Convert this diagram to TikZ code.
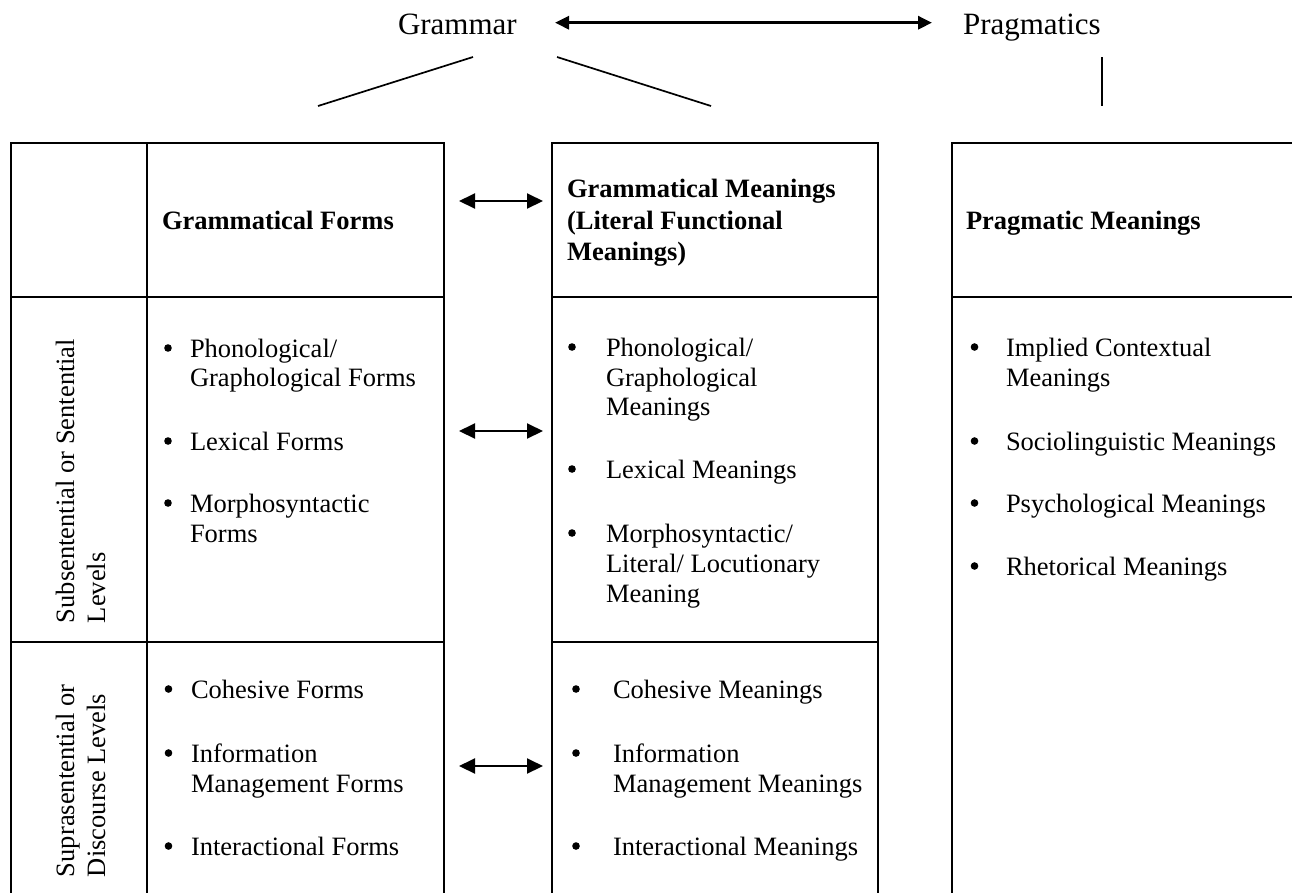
\documentclass[tikz,border=0pt]{standalone}
\usepackage{fontspec}
\setmainfont{Liberation Serif}
\usetikzlibrary{arrows.meta}

\begin{document}
\begin{tikzpicture}[x=1pt,y=-1pt,
  cell/.style={draw, line width=1.9pt, inner sep=0pt, outer sep=0pt, anchor=north west},
  txt/.style={anchor=base west, inner sep=0pt, outer sep=0pt,
    font=\fontsize{26.5}{30}\selectfont},
  head/.style={txt, font=\fontsize{26.5}{30}\selectfont\bfseries},
  title/.style={anchor=base west, inner sep=0pt, outer sep=0pt,
    font=\fontsize{31}{36}\selectfont},
  vert/.style={txt, rotate=90},
  dot/.style={circle, fill, draw=none, inner sep=0pt, minimum size=7.6pt},
  branch/.style={line width=1.7pt},
  link/.style={line width=2pt,
    {Triangle[length=16pt,width=15pt]}-{Triangle[length=16pt,width=15pt]}},
  toplink/.style={line width=3pt,
    {Triangle[length=14pt,width=13pt]}-{Triangle[length=14pt,width=13pt]}},
]
\useasboundingbox (0,0) rectangle (1292,892);
\clip (0,0) rectangle (1292,892);

% top labels
\node[title] (gram) at (398,34) {Grammar};
\node[title] (prag) at (963,34) {Pragmatics};
\coordinate (gl) at (555,22.7);
\coordinate (pr) at (932,22.7);
\draw[toplink] (gl) -- (pr);

% branches below the labels
\coordinate (b1s) at (473,57);  \coordinate (b1e) at (318,106);
\coordinate (b2s) at (557,57);  \coordinate (b2e) at (711,106);
\coordinate (b3s) at (1102,57); \coordinate (b3e) at (1102,106);
\draw[branch] (b1s) -- (b1e);
\draw[branch] (b2s) -- (b2e);
\draw[branch] (b3s) -- (b3e);

% grammar table: level column and form column
\node[cell, minimum width=136pt, minimum height=154pt] (a1) at (11,143) {};
\node[cell, minimum width=297pt, minimum height=154pt] (f1) at (147,143) {};
\node[cell, minimum width=136pt, minimum height=345pt] (a2) at (11,297) {};
\node[cell, minimum width=297pt, minimum height=345pt] (f2) at (147,297) {};
\node[cell, minimum width=136pt, minimum height=280pt] (a3) at (11,642) {};
\node[cell, minimum width=297pt, minimum height=280pt] (f3) at (147,642) {};

% grammatical meanings column
\node[cell, minimum width=326pt, minimum height=154pt] (m1) at (552,143) {};
\node[cell, minimum width=326pt, minimum height=345pt] (m2) at (552,297) {};
\node[cell, minimum width=326pt, minimum height=280pt] (m3) at (552,642) {};

% pragmatic meanings column
\node[cell, minimum width=380pt, minimum height=154pt] (p1) at (952,143) {};
\node[cell, minimum width=380pt, minimum height=625pt] (p2) at (952,297) {};

% links between forms and meanings
\coordinate (l1a) at (459,201); \coordinate (l1b) at (543,201);
\coordinate (l2a) at (459,431); \coordinate (l2b) at (543,431);
\coordinate (l3a) at (459,766); \coordinate (l3b) at (543,766);
\draw[link] (l1a) -- (l1b);
\draw[link] (l2a) -- (l2b);
\draw[link] (l3a) -- (l3b);

% headers
\node[head] (hf) at (162,229) {Grammatical Forms};
\node[head] (hm1) at (567,197) {Grammatical Meanings};
\node[head] (hm2) at (567,229) {(Literal Functional};
\node[head] (hm3) at (567,260) {Meanings)};
\node[head] (hp) at (966,229) {Pragmatic Meanings};

% level labels
\node[vert] (lv1a) at (74,623) {Subsentential or Sentential};
\node[vert] (lv1b) at (105,623) {Levels};
\node[vert] (lv2a) at (74,877) {Suprasentential or};
\node[vert] (lv2b) at (105,877) {Discourse Levels};

% sentence-level forms
\node[dot] (fb1) at (168,348) {};
\node[txt] (f1a) at (190,357) {Phonological/};
\node[txt] (f1b) at (190,386) {Graphological Forms};
\node[dot] (fb2) at (168,441) {};
\node[txt] (f2a) at (190,450) {Lexical Forms};
\node[dot] (fb3) at (168,503) {};
\node[txt] (f3a) at (190,512) {Morphosyntactic};
\node[txt] (f3b) at (190,542) {Forms};

% sentence-level meanings
\node[dot] (mb1) at (572,347) {};
\node[txt] (m1a) at (606,356) {Phonological/};
\node[txt] (m1b) at (606,386) {Graphological};
\node[txt] (m1c) at (606,415) {Meanings};
\node[dot] (mb2) at (572,469) {};
\node[txt] (m2a) at (606,478) {Lexical Meanings};
\node[dot] (mb3) at (572,533) {};
\node[txt] (m3a) at (606,542) {Morphosyntactic/};
\node[txt] (m3b) at (606,572) {Literal/ Locutionary};
\node[txt] (m3c) at (606,602) {Meaning};

% pragmatic meanings
\node[dot] (pb1) at (974.5,347) {};
\node[txt] (p1a) at (1006,356) {Implied Contextual};
\node[txt] (p1b) at (1006,386) {Meanings};
\node[dot] (pb2) at (974.5,441) {};
\node[txt] (p2a) at (1006,450) {Sociolinguistic Meanings};
\node[dot] (pb3) at (974.5,503) {};
\node[txt] (p3a) at (1006,512) {Psychological Meanings};
\node[dot] (pb4) at (974.5,566) {};
\node[txt] (p4a) at (1006,575) {Rhetorical Meanings};

% discourse-level forms
\node[dot] (db1) at (168.5,689) {};
\node[txt] (d1a) at (191,698) {Cohesive Forms};
\node[dot] (db2) at (168.5,753) {};
\node[txt] (d2a) at (191,762) {Information};
\node[txt] (d2b) at (191,792) {Management Forms};
\node[dot] (db3) at (168.5,846) {};
\node[txt] (d3a) at (191,855) {Interactional Forms};

% discourse-level meanings
\node[dot] (eb1) at (576,689) {};
\node[txt] (e1a) at (613,698) {Cohesive Meanings};
\node[dot] (eb2) at (576,753) {};
\node[txt] (e2a) at (613,762) {Information};
\node[txt] (e2b) at (613,792) {Management Meanings};
\node[dot] (eb3) at (576,846) {};
\node[txt] (e3a) at (613,855) {Interactional Meanings};
\end{tikzpicture}
\end{document}
